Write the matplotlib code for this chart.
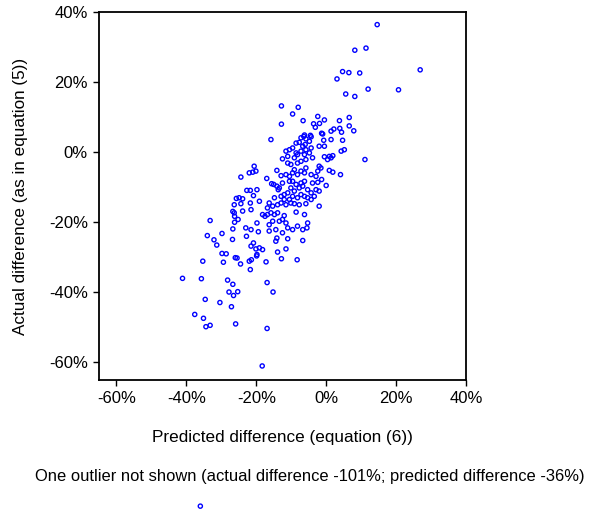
import matplotlib
matplotlib.use('Agg')
import matplotlib.pyplot as plt
from matplotlib.ticker import FuncFormatter

plt.rcParams['font.family'] = ['Liberation Sans', 'DejaVu Sans']

# predicted difference (x, %) and actual difference (y, %)
pred = [4.7, 6.5, 3.1, 5.6, -12.8, -8.0, -9.6, -6.6, -2.4, -0.5, 3.8, 6.6, -12.8, -3.6,
        -1.9, -3.1, 6.6, 2.2, 1.4, 3.9, 4.4, -1.3, -6.2, -4.5,
        14.6, 8.2, 11.4, 9.6, 26.9, 12.0, 20.7, 8.2, 7.9, 11.1,
        -25.7, -26.7, -26.2, -33.2, -26.2, -26.7, -29.8, -34.0, -32.1, -26.8, -31.3, -29.8, -28.6,
        -26.0, -35.3, -29.4, -41.1, -35.7, -28.2, -26.7, -27.8, -26.5, -34.6, -30.4, -27.1,
        -37.6, -35.1, -34.4, -33.2, -25.9,
        -25.5, -24.5, -22.0, -21.4, -19.9, -17.2, -12.8, -8.3, -21.7, -25.3, -16.9, -15.2, -16.9, -18.3,
        -15.8, -7.2, -6.4, -5.8, -4.3, -8.6, -7.7, -6.7, -6.0, -4.8, -1.0, -0.7, 1.4, 4.7,
        -11.5, -10.5, -9.6, -8.6, -7.2, -5.8, -11.0, -9.1, -8.2, -6.2, -4.8, -4.3, -2.0, -0.5,
        5.2, 4.3, -0.5, 0.9, 1.4, 1.9, 0.4, -12.5, -11.0, -10.1, -8.2, -7.2, -5.8, -3.9,
        -1.5, -2.0, 0.9, 1.9, 4.1, -24.4, -22.0, -20.6, -20.1, -21.0, -14.1, -12.9, -11.5,
        -10.5, -9.6, -9.1, -8.2, -7.2, -6.2, -5.8, -4.3, -2.9, -2.4, -17.0, -15.6, -15.0,
        -14.1, -13.4, -12.5, -10.5, -9.6, -8.6, -7.2, -6.2, -3.9, -2.4, -1.3, 0.0, -22.7,
        -21.7, -19.8, -20.8, -13.7, -10.1, -9.1, -7.7, -6.7, -5.3, -4.3, -2.9, -2.0, -24.9,
        -23.9, -24.4, -21.7, -19.1, -16.3, -14.8, -12.9, -12.0, -11.0, -10.5, -9.6, -8.2,
        -7.2, -6.2, -5.3, -4.3, -3.4, -2.0, -26.3, -23.9, -21.5, -16.8, -15.3, -13.9, -12.9,
        -12.0, -11.5, -10.1, -9.1, -7.7, -5.8, -18.2, -17.5, -16.8, -15.8, -14.8, -13.9,
        -12.0, -8.6, -6.2, -26.3, -25.2, -19.8, -16.3, -15.3, -13.4, -12.5, -11.5, -11.0,
        -9.6, -8.2, -5.3, -6.7, -5.5, -23.0, -21.5, -19.4, -16.3, -14.4, -12.5, -22.8,
        -14.1, -14.4, -11.0, -6.7, -21.5, -20.8, -19.1, -18.2, -20.1, -13.9, -11.5, -19.8]
actual = [23.0, 22.7, 20.9, 16.6, 13.2, 12.8, 10.9, 9.0, 10.2, 9.2, 9.0, 9.9, 8.0, 8.1,
          8.2, 7.1, 7.5, 6.6, 6.0, 6.8, 5.7, 5.4, 4.9, 4.8,
          36.4, 29.1, 29.7, 22.6, 23.5, 18.0, 17.8, 15.9, 6.1, -2.1,
          -13.2, -16.9, -18.3, -19.5, -20.0, -21.9, -23.2, -23.8, -25.0, -24.9, -26.5, -28.9, -29.0,
          -30.1, -31.1, -31.4, -36.0, -36.1, -36.5, -37.7, -39.9, -40.9, -42.0, -42.9, -44.1,
          -46.3, -47.4, -49.8, -49.4, -49.0,
          -30.2, -31.9, -31.1, -30.7, -29.6, -31.3, -30.4, -30.7, -33.5, -39.8, -37.2, -39.9, -50.3, -61.0,
          3.6, 4.1, 4.5, 3.8, 4.4, 2.6, 2.8, 1.7, 2.2, 3.1, 5.2, 3.4, 3.6, 3.4,
          0.3, 0.7, 1.2, -0.2, 0.3, 0.7, -1.2, -1.6, -0.7, -0.7, -0.2, 1.2, 1.7, 1.7,
          0.7, 0.3, -1.3, -1.2, -1.6, -1.0, -2.1, -1.9, -3.1, -3.5, -3.1, -2.6, -2.1, -1.6,
          -4.5, -4.0, -5.2, -5.7, -6.4, -7.1, -5.9, -4.0, -5.4, -5.7, -5.2, -6.7, -6.4,
          -6.9, -5.9, -5.0, -6.4, -5.4, -5.9, -4.5, -6.4, -6.9, -5.4, -7.5, -9.0, -9.2,
          -9.7, -10.2, -8.8, -8.3, -8.3, -9.2, -8.8, -8.3, -8.8, -8.6, -7.8, -9.5, -10.9,
          -10.9, -10.7, -12.4, -10.7, -10.2, -11.1, -10.2, -9.7, -10.7, -11.6, -10.7, -11.1, -13.0,
          -13.3, -14.7, -14.5, -14.0, -14.5, -13.0, -12.6, -12.1, -11.6, -13.5, -12.6, -13.0,
          -12.1, -12.6, -13.0, -13.5, -12.6, -15.4, -15.0, -16.8, -16.4, -15.9, -15.4, -15.0, -14.5,
          -13.5, -15.0, -14.5, -14.7, -15.0, -14.7, -17.8, -18.3, -17.8, -17.3, -17.8, -17.3,
          -18.1, -17.1, -17.8, -17.3, -19.2, -20.2, -20.7, -19.7, -19.7, -19.2, -20.2, -21.6,
          -22.1, -21.1, -20.2, -22.1, -21.6, -21.6, -22.1, -22.7, -22.5, -22.1, -23.0, -24.0,
          -24.5, -25.4, -24.7, -25.2, -26.8, -25.9, -27.3, -27.8, -27.6, -28.5, -27.6, -29.2]

# the point left out of the frame
out_pred = [-36]
out_actual = [-101]

ticks = [-60, -40, -20, 0, 20, 40]

fig = plt.figure(figsize=(5.97, 5.13), dpi=100)
ax = fig.add_axes([0.1658, 0.2593, 0.6147, 0.7173])

ax.scatter(pred, actual, s=9, facecolors='none', edgecolors='#0000ff', linewidths=1.0)
ax.scatter(out_pred, out_actual, s=9, facecolors='none', edgecolors='#0000ff',
           linewidths=1.0, clip_on=False)

ax.set_xlim(-65, 40)
ax.set_ylim(-65, 40)
ax.set_xticks(ticks)
ax.set_yticks(ticks)
pct = FuncFormatter(lambda v, p: '%d%%' % v)
ax.xaxis.set_major_formatter(pct)
ax.yaxis.set_major_formatter(pct)
ax.tick_params(direction='out', length=4, width=1, labelsize=12, pad=4)
for sp in ax.spines.values():
    sp.set_linewidth(1.3)

ax.set_xlabel('Predicted difference (equation (6))', fontsize=12.3, labelpad=17)
ax.set_ylabel('Actual difference (as in equation (5))', fontsize=12.3, labelpad=15)

fig.text(35 / 597, 1 - 477 / 513,
         'One outlier not shown (actual difference -101%; predicted difference -36%)',
         fontsize=11.9, ha='left', va='center')

fig.savefig('out.png', dpi=100)
